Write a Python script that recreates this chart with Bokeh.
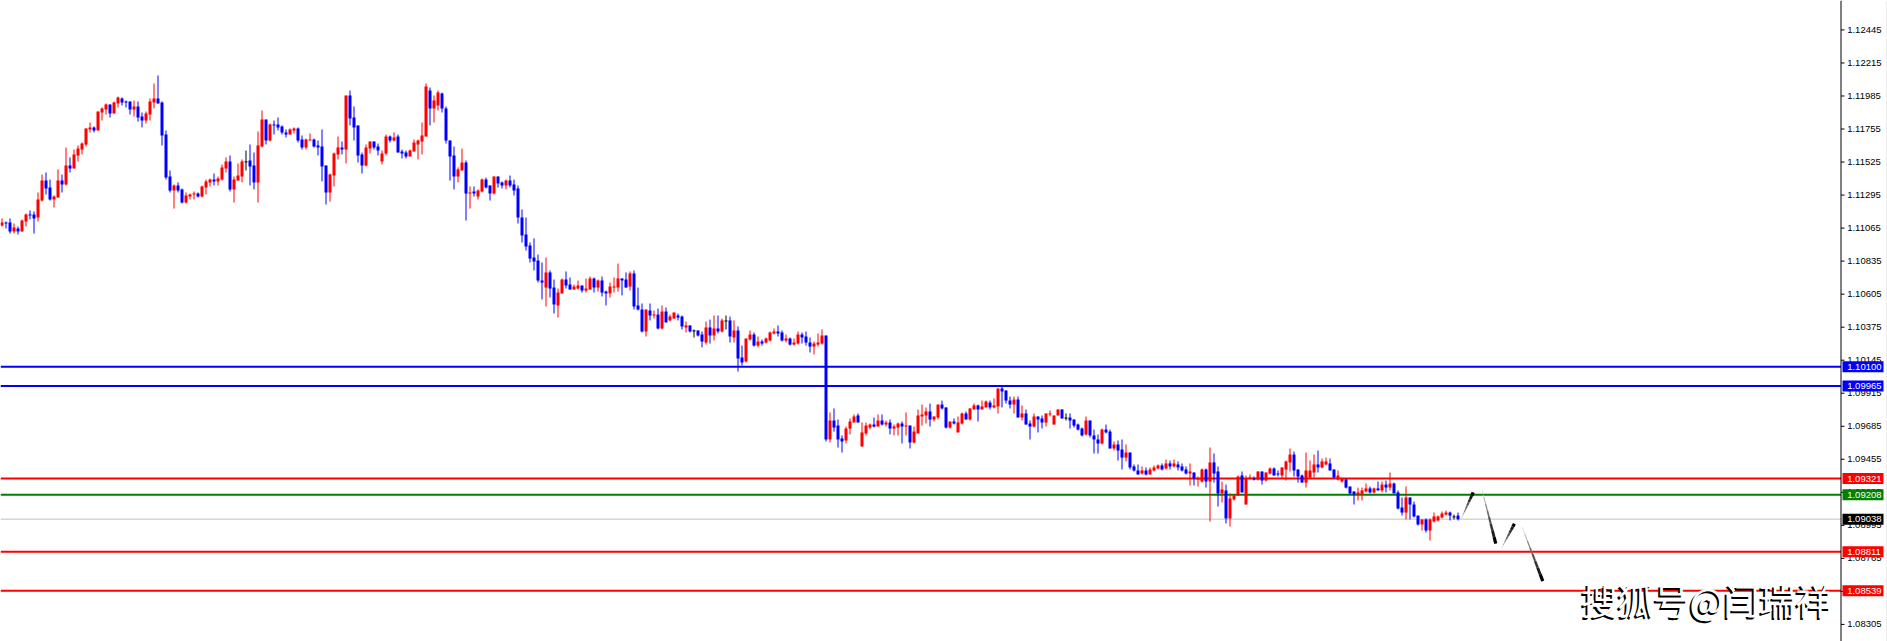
from bokeh.plotting import figure
from bokeh.models import Range1d, Label
from bokeh.core.properties import value
from bokeh.embed import file_html
from bokeh.resources import INLINE
import numpy as np

# Prices are stored in 1e-5 units above PRICE_BASE
PRICE_BASE = 1.08
opens = [
3083,3104,3104,3041,3062,3041,3111,3160,3160,3139,3257,3396,3348,3264,3278,3396,3369,3501,3480,3571,
3612,3647,3752,3766,3745,3870,3891,3926,3863,3933,3968,3947,3947,3891,3912,3842,3814,3856,3940,3968,
3940,3717,3424,3327,3362,3334,3243,3285,3299,3306,3285,3348,3383,3403,3390,3403,3480,3529,3334,3396,
3424,3526,3536,3501,3383,3633,3821,3675,3786,3786,3773,3731,3717,3745,3759,3682,3626,3675,3682,3640,
3633,3501,3313,3431,3578,3626,3612,3988,3835,3780,3578,3501,3619,3668,3633,3529,3585,3703,3675,3703,
3598,3591,3564,3598,3647,3668,3703,4023,3898,3919,4002,3898,3675,3571,3424,3466,3522,3306,3320,3285,
3320,3403,3362,3306,3424,3383,3362,3396,3369,3341,3139,3020,2944,2860,2839,2700,2651,2756,2651,2526,
2610,2707,2672,2637,2644,2665,2630,2637,2714,2651,2700,2623,2610,2651,2651,2714,2707,2658,2749,2526,
2498,2345,2491,2456,2463,2366,2484,2422,2435,2456,2449,2373,2387,2349,2352,2324,2268,2373,2317,2366,
2345,2418,2422,2303,2352,2164,2136,2289,2324,2247,2275,2268,2282,2331,2345,2338,2282,2296,2254,2261,
2324,2310,2268,2240,2254,2261,2317,1593,1725,1690,1600,1586,1669,1711,1760,1544,1635,1676,1697,1683,
1725,1697,1711,1669,1676,1704,1683,1690,1572,1635,1753,1760,1788,1732,1746,1836,1816,1676,1718,1642,
1704,1774,1732,1802,1830,1802,1816,1850,1816,1823,1948,1934,1864,1836,1871,1746,1774,1704,1683,1753,
1739,1711,1767,1697,1760,1802,1742,1746,1732,1697,1669,1628,1725,1621,1593,1565,1662,1648,1530,1558,
1523,1467,1502,1405,1377,1356,1377,1349,1377,1391,1412,1391,1426,1405,1419,1405,1384,1356,1363,1314,
1300,1384,1300,1433,1370,1217,1238,1043,1175,1203,1342,1140,1321,1321,1314,1370,1307,1356,1391,1356,
1342,1384,1433,1488,1384,1342,1293,1328,1363,1419,1398,1419,1426,1384,1314,1300,1314,1265,1231,1210,
1210,1231,1252,1224,1252,1238,1279,1258,1286,1224,1119,1084,1189,1140,1063,1001,1036,959,1022,1029,
1050,1070,1084,1054,1063]
highs = [
3132,3111,3132,3097,3076,3125,3167,3188,3181,3313,3438,3452,3403,3292,3473,3438,3626,3557,3612,3640,
3661,3759,3800,3773,3877,3905,3933,3926,3947,3981,3975,3954,3947,3954,3947,3870,3877,3968,4072,4128,
3947,3745,3466,3369,3383,3341,3313,3306,3320,3313,3362,3403,3410,3445,3424,3508,3557,3571,3424,3515,
3543,3605,3647,3591,3738,3884,3821,3793,3814,3835,3780,3752,3759,3766,3766,3710,3689,3724,3689,3675,
3752,3501,3445,3591,3703,3668,3988,4023,3912,3780,3591,3647,3668,3668,3654,3605,3717,3710,3731,3717,
3612,3605,3612,3682,3682,3800,4072,4044,3988,4023,4009,3912,3675,3633,3487,3619,3536,3355,3355,3334,
3410,3417,3362,3424,3424,3390,3403,3431,3403,3362,3195,3139,2965,2993,2881,2825,2860,2770,2707,2644,
2714,2763,2721,2672,2700,2665,2714,2728,2721,2707,2728,2630,2686,2721,2818,2714,2756,2763,2770,2651,
2540,2498,2540,2491,2505,2526,2512,2463,2477,2470,2456,2415,2387,2359,2352,2345,2415,2428,2456,2456,
2435,2456,2449,2422,2380,2247,2296,2352,2338,2310,2289,2303,2345,2366,2387,2352,2324,2303,2296,2345,
2338,2345,2303,2275,2331,2359,2317,1781,1809,1732,1621,1683,1739,1767,1774,1711,1711,1704,1746,1767,
1767,1725,1732,1697,1711,1718,1781,1690,1683,1802,1836,1816,1843,1753,1836,1864,1816,1718,1739,1753,
1781,1788,1809,1843,1836,1864,1864,1864,1878,1948,1962,1934,1892,1892,1892,1830,1802,1725,1774,1753,
1760,1774,1795,1760,1802,1802,1774,1774,1732,1704,1676,1753,1725,1662,1628,1669,1697,1662,1579,1586,
1593,1558,1502,1419,1419,1405,1398,1398,1412,1419,1426,1453,1446,1453,1440,1426,1405,1426,1363,1335,
1391,1391,1537,1495,1405,1300,1279,1217,1210,1342,1370,1342,1349,1335,1370,1370,1363,1398,1398,1377,
1398,1446,1530,1509,1384,1349,1502,1446,1488,1516,1460,1467,1460,1384,1377,1328,1321,1265,1231,1258,
1258,1286,1265,1258,1300,1300,1307,1363,1293,1238,1189,1265,1189,1161,1063,1036,1043,1043,1084,1063,
1091,1098,1091,1070,1084]
lows = [
3076,3062,3027,3027,3020,3041,3076,3125,3027,3111,3250,3299,3257,3208,3278,3313,3362,3452,3480,3529,
3578,3633,3731,3731,3745,3814,3856,3835,3863,3905,3919,3905,3856,3842,3807,3766,3793,3814,3898,3933,
3640,3403,3313,3201,3313,3236,3236,3264,3264,3278,3278,3299,3355,3362,3362,3396,3452,3320,3243,3396,
3383,3466,3362,3334,3243,3626,3647,3668,3717,3745,3717,3696,3717,3724,3661,3612,3612,3675,3626,3571,
3390,3229,3250,3355,3543,3578,3515,3780,3675,3522,3445,3494,3585,3612,3571,3508,3571,3661,3668,3591,
3550,3550,3564,3598,3543,3578,3703,3780,3800,3884,3870,3654,3396,3334,3383,3466,3118,3201,3285,3264,
3313,3341,3257,3299,3348,3341,3334,3348,3292,3097,2965,2909,2825,2770,2686,2568,2519,2582,2470,2442,
2610,2644,2637,2637,2637,2616,2616,2637,2616,2623,2589,2526,2582,2616,2623,2596,2651,2630,2498,2491,
2338,2310,2422,2435,2359,2359,2408,2415,2435,2422,2359,2338,2338,2303,2310,2234,2254,2261,2282,2331,
2338,2359,2268,2268,2066,2108,2129,2282,2240,2234,2247,2261,2275,2324,2310,2275,2268,2247,2247,2254,
2261,2247,2199,2185,2240,2254,1579,1572,1648,1537,1502,1565,1628,1711,1711,1544,1621,1662,1676,1683,
1690,1683,1628,1621,1621,1565,1621,1530,1565,1635,1690,1704,1683,1718,1732,1802,1669,1669,1697,1642,
1697,1732,1725,1802,1718,1802,1816,1802,1809,1774,1816,1843,1809,1774,1746,1725,1697,1593,1676,1642,
1669,1683,1753,1697,1760,1739,1725,1669,1676,1655,1614,1621,1607,1495,1495,1558,1635,1530,1516,1446,
1384,1440,1384,1370,1349,1349,1342,1349,1370,1384,1377,1384,1384,1398,1377,1370,1349,1272,1272,1265,
1293,1258,1022,1293,1126,1154,1008,987,1168,1203,1224,1140,1314,1307,1307,1279,1300,1349,1342,1335,
1321,1307,1370,1335,1293,1293,1258,1321,1328,1363,1391,1412,1377,1321,1307,1293,1252,1210,1140,1168,
1168,1224,1217,1217,1238,1224,1224,1238,1217,1105,1063,1036,1036,1050,994,959,945,889,1015,1022,
1043,1063,1029,1036,1029]
closes = [
3104,3097,3041,3069,3041,3118,3160,3153,3132,3264,3396,3341,3264,3285,3396,3369,3501,3480,3578,3619,
3654,3759,3766,3745,3877,3898,3926,3863,3940,3975,3940,3940,3891,3912,3835,3814,3863,3947,3968,3933,
3710,3417,3327,3362,3327,3243,3292,3299,3306,3285,3355,3390,3403,3390,3410,3487,3529,3334,3403,3431,
3529,3526,3494,3383,3640,3821,3675,3786,3780,3766,3731,3717,3752,3759,3675,3626,3682,3682,3633,3626,
3494,3313,3438,3585,3626,3612,3988,3828,3766,3571,3501,3626,3668,3626,3605,3585,3703,3675,3696,3591,
3585,3564,3605,3661,3675,3710,4051,3898,3954,4009,3898,3675,3564,3424,3473,3522,3306,3313,3306,3327,
3403,3348,3306,3424,3376,3362,3396,3362,3327,3139,3013,2937,2853,2832,2700,2686,2756,2644,2533,2616,
2707,2665,2637,2658,2665,2630,2644,2714,2651,2700,2616,2610,2658,2658,2714,2700,2651,2749,2519,2498,
2345,2498,2456,2463,2366,2484,2408,2449,2477,2442,2380,2387,2345,2349,2317,2275,2373,2317,2366,2345,
2422,2418,2310,2352,2157,2129,2296,2324,2247,2275,2261,2296,2338,2345,2331,2282,2296,2254,2268,2324,
2303,2268,2240,2261,2268,2317,1593,1725,1676,1593,1579,1669,1718,1753,1711,1642,1690,1697,1683,1725,
1697,1711,1669,1683,1704,1683,1690,1572,1648,1760,1767,1788,1732,1753,1836,1809,1676,1718,1704,1711,
1774,1732,1809,1830,1802,1823,1857,1816,1830,1948,1927,1864,1836,1871,1746,1774,1697,1683,1753,1732,
1711,1774,1774,1760,1802,1739,1742,1725,1690,1662,1621,1725,1621,1593,1565,1662,1642,1530,1558,1516,
1467,1502,1398,1377,1349,1377,1349,1384,1398,1412,1384,1426,1405,1426,1398,1377,1356,1370,1321,1321,
1384,1300,1433,1356,1217,1245,1043,1182,1203,1335,1224,1321,1328,1314,1370,1307,1363,1391,1342,1349,
1398,1440,1488,1377,1335,1293,1377,1377,1419,1398,1440,1440,1377,1328,1342,1321,1258,1217,1210,1224,
1238,1252,1224,1252,1238,1279,1258,1286,1217,1112,1084,1189,1140,1057,1001,1036,959,1036,1057,1057,
1077,1084,1063,1054,1038]

tick_values = [1.12445, 1.12215, 1.11985, 1.11755, 1.11525, 1.11295, 1.11065, 1.10835, 1.10605, 1.10375,
               1.10145, 1.09915, 1.09685, 1.09455, 1.09225, 1.08995, 1.08765, 1.08535, 1.08305]
level_prices = [1.10100, 1.09965, 1.09321, 1.09208, 1.08811, 1.08539]
level_colors = ["#0000ff", "#0000ff", "#ff0000", "#008000", "#ff0000", "#ff0000"]
last_price = 1.09038

# Hand-drawn projection strokes: (bar, price) start and end
stroke_x0 = [364.8, 370.05, 374.9, 380.05]
stroke_y0 = [1.09041, 1.09238, 1.08836, 1.08982]
stroke_x1 = [367.8, 373.45, 378.1, 385.2]
stroke_y1 = [1.09224, 1.08867, 1.09006, 1.08606]

WATERMARK = "搜狐号@闫瑞祥"
FONT = "Liberation Sans"
FS = "9.5px"
Y_RANGE = (1.08186, 1.12650)
W, H = 1887, 641

def bar_x(px):
    """Bar-index coordinate of a canvas pixel column (each bar occupies 4 px)."""
    return px / 4 - 0.375

o = np.array(opens) / 1e5 + PRICE_BASE
h = np.array(highs) / 1e5 + PRICE_BASE
l = np.array(lows) / 1e5 + PRICE_BASE
c = np.array(closes) / 1e5 + PRICE_BASE
idx = np.arange(len(o))
colors = np.where(c > o, "#ff0000", np.where(c < o, "#0000ff", "#000000")).tolist()

p = figure(width=W, height=H, output_backend="svg", toolbar_location=None,
           x_range=Range1d(bar_x(0), bar_x(W)), y_range=Range1d(*Y_RANGE),
           x_axis_location=None, y_axis_location=None,
           min_border_left=0, min_border_top=0, min_border_bottom=0, min_border_right=0,
           background_fill_color="white", border_fill_color="white", outline_line_color=None)
p.grid.visible = False

# level lines run up to the price scale
axis_x = bar_x(1840.5)
n_lv = len(level_prices)
p.segment([bar_x(0)] * n_lv, level_prices, [axis_x] * n_lv, level_prices, line_color=level_colors, line_width=2)
p.segment([bar_x(0)], [last_price], [axis_x], [last_price], line_color="#c0c0c0", line_width=1)

# candles
p.segment(idx, h, idx, l, line_color=colors, line_width=1)
p.quad(left=idx - 0.375, right=idx + 0.375, top=np.maximum(o, c), bottom=np.minimum(o, c),
       fill_color=colors, line_color=None)
dj = idx[o == c]
p.segment(dj - 0.375, o[dj], dj + 0.375, o[dj], line_color="#000000", line_width=1)

# tapered strokes: thin and pale at the start, heavy and black at the tip
for x0, y0, x1, y1 in zip(stroke_x0, stroke_y0, stroke_x1, stroke_y1):
    t = np.linspace(0, 1, 9)
    xs = x0 + (x1 - x0) * t
    ys = y0 + (y1 - y0) * t
    widths = np.linspace(0.5, 3.2, 8).tolist()
    shades = ["#%02x%02x%02x" % (v, v, v) for v in np.linspace(190, 0, 8).astype(int)]
    p.segment(xs[:-1], ys[:-1], xs[1:], ys[1:], line_color=shades, line_width=widths)

# price scale: line, ticks, labels, right edge
p.segment([axis_x], [Y_RANGE[0]], [axis_x], [Y_RANGE[1]], line_color="black", line_width=1)
n_t = len(tick_values)
p.segment([axis_x] * n_t, tick_values, [bar_x(1844)] * n_t, tick_values, line_color="black", line_width=1)
text_x = bar_x(1846.7)
p.text(x=[text_x] * n_t, y=tick_values, text=["%.5f" % v for v in tick_values], text_color="black",
       text_font=value(FONT), text_font_size=value(FS), text_baseline="middle")
p.segment([bar_x(1886.5)], [Y_RANGE[0]], [bar_x(1886.5)], [Y_RANGE[1]], line_color="#dcdcdc", line_width=1)

# boxed level tags sitting over the scale
tag_prices = level_prices + [last_price]
tag_colors = level_colors + ["#000000"]
tag_half = 5.5 * (Y_RANGE[1] - Y_RANGE[0]) / H
n_tag = len(tag_prices)
p.quad(left=[bar_x(1842)] * n_tag, right=[bar_x(1883)] * n_tag,
       top=[v + tag_half for v in tag_prices], bottom=[v - tag_half for v in tag_prices],
       fill_color=tag_colors, line_color=None)
p.text(x=[text_x] * n_tag, y=tag_prices, text=["%.5f" % v for v in tag_prices], text_color="white",
       text_font=value(FONT), text_font_size=value(FS), text_baseline="middle")

wm_y = 1.08485
p.add_layout(Label(x=1581, x_units="screen", y=wm_y, y_units="data", text=WATERMARK, x_offset=-2, y_offset=-2,
                   text_color="#000000", text_font="Noto Sans CJK SC", text_font_size="36px",
                   text_baseline="middle"))
p.add_layout(Label(x=1581, x_units="screen", y=wm_y, y_units="data", text=WATERMARK,
                   text_color="#ffffff", text_font="Noto Sans CJK SC", text_font_size="36px",
                   text_baseline="middle"))

open("out.html", "w").write(file_html(p, INLINE))
